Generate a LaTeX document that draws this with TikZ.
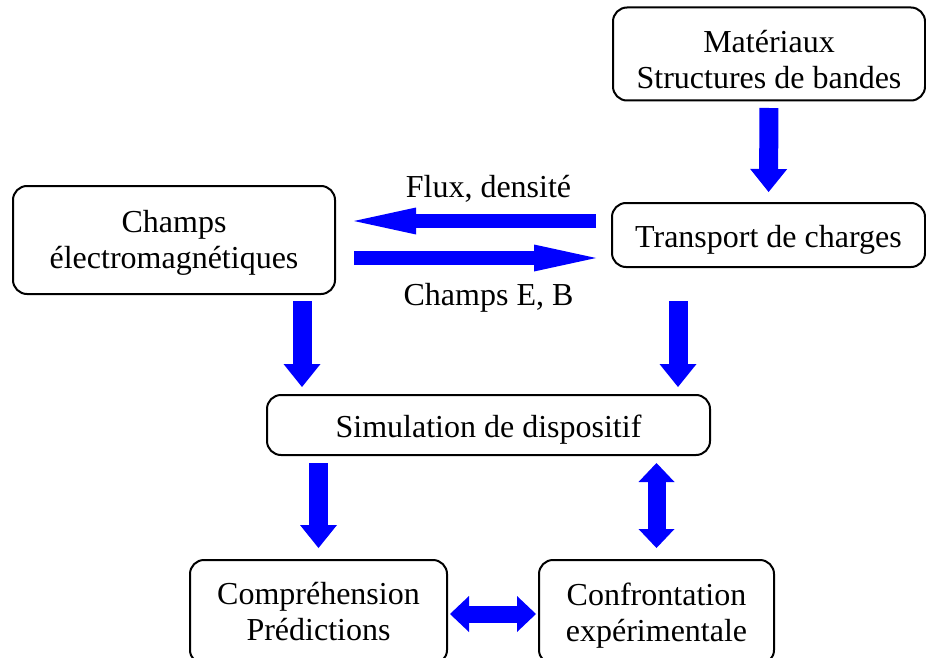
\documentclass[tikz,border=0pt]{standalone}
\usepackage{fontspec}
\setmainfont{Liberation Serif}
\usetikzlibrary{arrows.meta}

\begin{document}
\begin{tikzpicture}[x=0.5pt, y=-0.5pt,
	bloc/.style={draw, line width=1pt, rounded corners=7pt, align=center, inner sep=0pt, font=\fontsize{16pt}{18pt}\selectfont, execute at begin node={\rule{0pt}{16pt}}},
	legende/.style={anchor=base, inner sep=0pt, text=black, font=\fontsize{16pt}{18pt}\selectfont},
	fleche/.style={color=blue, line width=9.5pt, -{Triangle[width=18.5pt, length=11.5pt, line width=0pt]}},
	flechedouble/.style={color=blue, line width=9pt, {Triangle[width=18pt, length=9.5pt, line width=0pt]}-{Triangle[width=18pt, length=9.5pt, line width=0pt]}},
	flechelongue/.style={color=blue, line width=7pt, -{Triangle[width=13.5pt, length=31pt, line width=0pt]}}]
	\clip (0,0) rectangle (926,658);
	\node[bloc, minimum width=156pt, minimum height=46.5pt] (mat) at (769,54) {\rule{0pt}{17pt}Matériaux\\Structures de bandes};
	\node[bloc, minimum width=156.5pt, minimum height=32pt] (trans) at (768.5,235) {Transport de charges};
	\node[bloc, minimum width=161pt, minimum height=54pt] (champs) at (174,240) {\rule{0pt}{14pt}Champs\\électromagnétiques};
	\node[bloc, minimum width=221.5pt, minimum height=30pt] (sim) at (488.5,425) {Simulation de dispositif};
	\node[bloc, minimum width=128.5pt, minimum height=52pt] (compr) at (318.5,612) {Compréhension\\Prédictions};
	\node[bloc, minimum width=117.5pt, minimum height=52pt] (conf) at (656.5,612) {\rule{0pt}{14.5pt}Confrontation\\expérimentale};
	\coordinate (c1) at ([xshift=18pt]sim.north west);
	\coordinate (c2) at ([xshift=-16.5pt]sim.north east);
	\path[fleche]
	(mat) edge[shorten <=3.25pt, shorten >=5pt] (trans)
	(c1 |- champs.south) edge[shorten <=3pt, shorten >=3.5pt] (c1)
	(c2 |- trans.south) edge[shorten <=16.5pt, shorten >=3.5pt] (c2)
	(compr.north |- sim.south) edge[shorten <=3.5pt, shorten >=5.5pt] (compr.north)
	(conf.north |- sim.south) edge[flechedouble, shorten <=3.5pt, shorten >=5.5pt] (conf.north)
	([yshift=-1pt]compr.east) edge[flechedouble, line width=8.5pt, shorten <=1pt, shorten >=1pt] ([yshift=-1pt]conf.west)
	([yshift=7pt]trans.west) edge[flechelongue, shorten <=7.5pt, shorten >=9pt] node[legende, yshift=12pt, xshift=7.5pt] {Flux, densité} ([yshift=9.5pt]champs.east)
	([yshift=-9pt]champs.east) edge[flechelongue, shorten <=9pt, shorten >=7.5pt] node[legende, yshift=-23.5pt, xshift=7.5pt] {Champs E, B} ([yshift=-11.5pt]trans.west)
	;
\end{tikzpicture}
\end{document}
